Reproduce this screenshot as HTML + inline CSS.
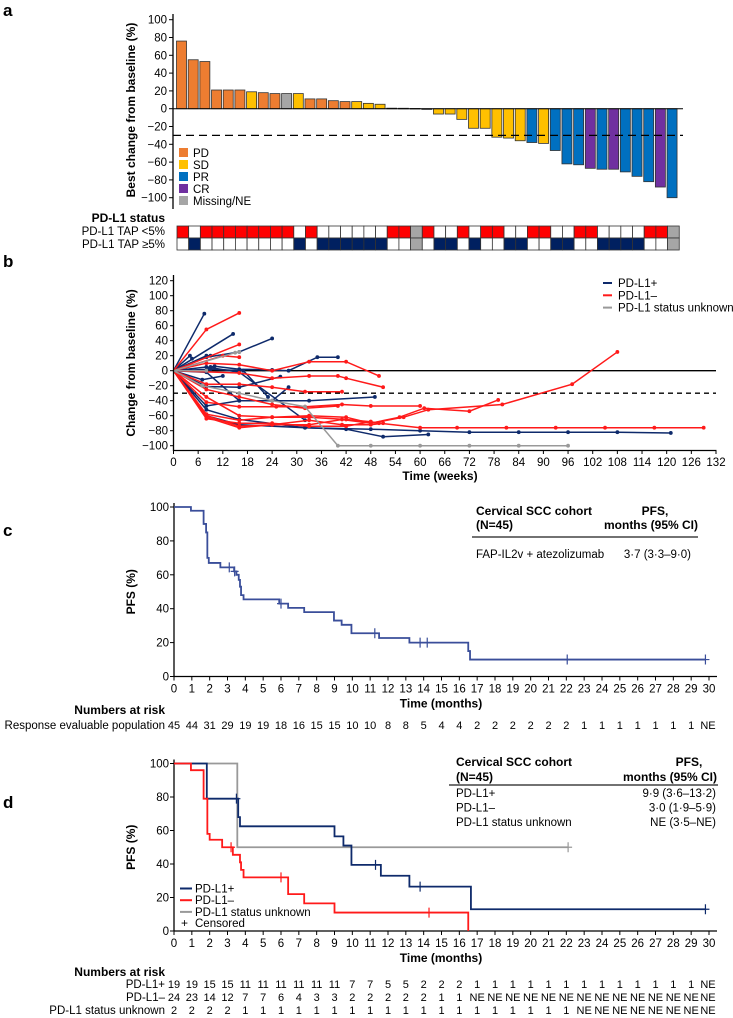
<!DOCTYPE html>
<html><head><meta charset="utf-8"><style>
html,body{margin:0;padding:0;background:#fff;}
svg{display:block;font-family:"Liberation Sans",Arial,sans-serif;}
</style></head><body>
<svg id="fig" width="733" height="1018" viewBox="0 0 733 1018" xmlns="http://www.w3.org/2000/svg">
<g font-weight="bold" font-size="17">
<text x="3" y="16">a</text>
<text x="3" y="267">b</text>
<text x="3" y="536">c</text>
<text x="3" y="808">d</text>
</g>
<g id="pa"></g>
<g id="pb"></g>
<g id="pc"></g>
<g id="pd"></g>
</svg>
<script>
// ---------- Panel a data ----------
const waterValues=[76,55,53,21,21,21,19,18,17,17,17,11,11,9,8,8,6,5,0.6,0.5,0.3,-0.8,-6,-6,-12,-22,-22,-32,-33,-36,-38,-39,-47,-62,-63,-67,-68,-68,-71,-76,-82,-88,-100];
const waterResp=["PD","PD","PD","PD","PD","PD","SD","PD","PD","NE","SD","PD","PD","PD","PD","SD","SD","SD","SD","SD","SD","SD","SD","SD","SD","SD","SD","SD","SD","SD","PR","SD","PR","PR","PR","CR","PR","CR","PR","PR","PR","CR","PR"];
const tapLow=["R","W","R","R","R","R","R","R","R","R","W","R","W","W","W","W","W","W","R","R","G","R","W","W","R","W","R","R","W","W","R","R","W","W","R","R","W","W","W","W","R","R","G"];
const yTicksA=[100,80,60,40,20,0,-20,-40,-60,-80,-100];
// ---------- Panel b data ----------
const spiderGroups=["pos","pos","pos","pos","pos","pos","pos","pos","pos","pos","pos","pos","pos","pos","neg","neg","neg","neg","neg","neg","neg","neg","neg","neg","neg","neg","neg","unk","unk","unk"];
const spiderWeeks=[
[0,7.5],[0,14.5],[0,8,16,24],[0,4,4.5],[0,8,9],[0,8,9,10,16,24,28,35,40],[0,7,12],[0,8,16,26],[0,8,16,24,28],[0,8,16,33,49],[0,8,16,32,48,60,72,84,96,108,121],[0,8,16,32,42,51,62],[0,9,17,23],[0,8,16,32],
[0,8,16],[0,16],[0,12,16],[0,8,16,24,33,42,50],[0,16,24,33,40,42,51],[0,8,16,24,32,41],[0,8,16,24,33,41,48,51],[0,8,16,25,32,41,48,60],[0,8,16,24,33,41,48,55,61,72,79],[0,8,16,24,33,42,48,50,60,69,81,93,105,117,129],[0,8,16,24,33,42,48,56,62,80,97,108],[0,8,16,24,32,40],[0,8,16,24,33,42,48],
[0,7,16,24,32,40,48,60,72,84,96],[0,15,16],[0,8]];
const spiderValues=[
[0,76],[0,49],[0,18,25,43],[0,20,16],[0,20,20],[0,0,5,6,2,1,0,18,18],[0,-12,-7],[0,-21,-22,-8],[0,-2,-40,-40,-22],[0,-47,-40,-40,-35],[0,-60,-72,-76,-78,-80,-82,-82,-82,-82,-83],[0,-52,-65,-76,-78,-88,-85],[0,2,0,-35],[0,5,-2,-66],
[0,55,77],[0,35],[0,20,18],[0,10,8,0,12,12,-7],[0,-3,-10,-7,-7,-10,-22],[0,-18,-18,-22,-28,-28],[0,-60,-74,-72,-66,-72,-72,-70],[0,-42,-48,-48,-48,-45,-47,-47],[0,-62,-76,-72,-72,-65,-70,-62,-50,-54,-39],[0,-64,-70,-70,-74,-74,-68,-70,-76,-76,-76,-76,-76,-76,-76],[0,-58,-66,-62,-60,-62,-70,-62,-52,-45,-18,25],[0,-25,-35,-45,-50,-47],[0,-35,-60,-62,-62,-65,-68],
[0,-20,-30,-40,-48,-100,-100,-100,-100,-100,-100],[0,24,25],[0,0]];
const xTicksB=[0,6,12,18,24,30,36,42,48,54,60,66,72,78,84,90,96,102,108,114,120,126,132];
const yTicksB=[120,100,80,60,40,20,0,-20,-40,-60,-80,-100];
// ---------- Panel c data ----------
const kmTimesC=[0,0.95,1.66,1.8,1.87,1.95,2.6,3.37,3.5,3.63,3.7,3.76,3.9,5.9,6.4,7.3,8.97,9.4,9.95,11.5,13.2,16.5,16.6,29.8];
const kmSurvC=[100,97.8,90,85,70,67,64.4,62,60,57,53,48,45.5,43,40.5,38,33,30.5,25.5,22.7,20,15,10,10];
const censorC=[3.1,3.4,6.0,11.26,13.8,14.2,22.05,29.8];
const riskC=["45","44","31","29","19","19","18","16","15","15","10","10","8","8","5","4","4","2","2","2","2","2","2","1","1","1","1","1","1","1","NE"];
// ---------- Panel d data ----------
const kmTimesPos=[0,1.84,3.6,3.7,9.0,9.5,9.95,11.6,13.2,16.65,29.8];
const kmSurvPos=[100,79,68,62.5,56.5,51,39.5,33,26.5,13,13];
const censorPos=[3.5,11.3,13.8,29.8];
const kmTimesNeg=[0,0.95,1.66,1.87,2.0,2.7,3.3,3.7,3.76,3.9,6.4,7.3,9.0,16.5];
const kmSurvNeg=[100,96,79,58,54.5,50,45.5,41,36.5,32,22,16.5,11,0];
const censorNeg=[3.2,6.0,14.3];
const kmTimesUnk=[0,3.55,22.1];
const kmSurvUnk=[100,50,50];
const censorUnk=[22.1];
const riskPos=["19","19","15","15","11","11","11","11","11","11","7","7","5","5","2","2","2","1","1","1","1","1","1","1","1","1","1","1","1","1","NE"];
const riskNeg=["24","23","14","12","7","7","6","4","3","3","2","2","2","2","2","1","1","NE","NE","NE","NE","NE","NE","NE","NE","NE","NE","NE","NE","NE","NE"];
const riskUnk=["2","2","2","2","1","1","1","1","1","1","1","1","1","1","1","1","1","1","1","1","1","1","1","NE","NE","NE","NE","NE","NE","NE","NE"];

const NS="http://www.w3.org/2000/svg";
function mk(parent,tag,attrs,txt){const e=document.createElementNS(NS,tag);for(const k in attrs)e.setAttribute(k,attrs[k]);if(txt!==undefined)e.textContent=txt;parent.appendChild(e);return e;}

// ===== Panel a =====
(function(){
const g=document.getElementById('pa');
const y=v=>108.7-v*0.89;
const x0=176.5,pitch=11.68,bw=10;
const colors={PD:"#ED7D31",SD:"#FFC000",PR:"#0070C0",CR:"#7030A0",NE:"#A6A6A6"};
let ax=mk(g,'line',{x1:173,y1:14,x2:173,y2:209,stroke:'#000','stroke-width':1.3});


yTicksA.forEach(t=>{
 let tk=mk(g,'line',{x1:169,x2:173,y1:y(t),y2:y(t),stroke:'#000'});
 
 
 let lb=mk(g,'text',{x:167,y:y(t)+4,'text-anchor':'end','font-size':11.5},t<0?'\u2212'+(-t):String(t));
 
 
});
let yt=mk(g,'text',{transform:'translate(135,110) rotate(-90)','text-anchor':'middle','font-size':12,'font-weight':'bold'},'Best change from baseline (%)');


waterValues.forEach((v,i)=>{
 const bx=x0+i*pitch;
 const top=Math.min(y(v),y(0)),h=Math.abs(y(v)-y(0));
 let r=mk(g,'rect',{x:bx,y:top,width:bw,height:Math.max(h,0.6),fill:colors[waterResp[i]],stroke:'#333','stroke-width':0.8});
 
 
});
let z=mk(g,'line',{x1:173,x2:683,y1:y(0),y2:y(0),stroke:'#000','stroke-width':1});


let d=mk(g,'line',{x1:173,x2:683,y1:y(-30),y2:y(-30),stroke:'#000','stroke-width':1.3,'stroke-dasharray':'8,5'});


const leg=[["PD","PD"],["SD","SD"],["PR","PR"],["CR","CR"],["NE","Missing/NE"]];
leg.forEach((l,i)=>{
 const ly=148+i*12;
 let s=mk(g,'rect',{x:179,y:ly,width:9,height:9,fill:colors[l[0]]});
 
 
 let t=mk(g,'text',{x:193,y:ly+9,'font-size':11.5},l[1]);
 
 
});
let h=mk(g,'text',{x:165,y:222,'text-anchor':'end','font-size':12,'font-weight':'bold'},'PD-L1 status');


let r1=mk(g,'text',{x:165,y:235,'text-anchor':'end','font-size':11.5},'PD-L1 TAP <5%');


let r2=mk(g,'text',{x:165,y:248,'text-anchor':'end','font-size':11.5},'PD-L1 TAP \u22655%');


const cc={R:"#FF0000",W:"#FFFFFF",G:"#A6A6A6",N:"#002060"};
tapLow.forEach((c,i)=>{
 const cx=177+i*pitch;
 const c2=c==="R"?"W":(c==="W"?"N":"G");
 let a=mk(g,'rect',{x:cx,y:226,width:pitch,height:12,fill:cc[c],stroke:'#333','stroke-width':0.8});
 
 
 let b=mk(g,'rect',{x:cx,y:238,width:pitch,height:12,fill:cc[c2],stroke:'#333','stroke-width':0.8});
 
 
});
})();

// ===== Panel b =====
(function(){
const g=document.getElementById('pb');
const x=w=>173.5+w*(542.5/132);
const y=v=>370.7-v*0.75;
const col={pos:"#0E2A6B",neg:"#FF1A1A",unk:"#999999"};
let zl=mk(g,'line',{x1:173,x2:716,y1:y(0),y2:y(0),stroke:'#000','stroke-width':1.3});


let dl=mk(g,'line',{x1:173,x2:716,y1:y(-30),y2:y(-30),stroke:'#000','stroke-width':1.3,'stroke-dasharray':'5,4'});


spiderWeeks.forEach((ws,i)=>{
 const pts=ws.map((w,j)=>x(w)+','+y(spiderValues[i][j])).join(' ');
 let pl=mk(g,'polyline',{points:pts,fill:'none',stroke:col[spiderGroups[i]],'stroke-width':1.5});
 
 
 ws.forEach((w,j)=>{ if(j===0)return;
  let c=mk(g,'circle',{cx:x(w),cy:y(spiderValues[i][j]),r:1.9,fill:col[spiderGroups[i]]});
  
  
 });
});
let ya=mk(g,'line',{x1:173.5,x2:173.5,y1:275,y2:451,stroke:'#000','stroke-width':1.3});


let xa=mk(g,'line',{x1:173,x2:716.5,y1:450.5,y2:450.5,stroke:'#000','stroke-width':1.3});


yTicksB.forEach(t=>{
 let tk=mk(g,'line',{x1:170,x2:173.5,y1:y(t),y2:y(t),stroke:'#000'});
 
 
 let lb=mk(g,'text',{x:168,y:y(t)+4,'text-anchor':'end','font-size':11.5},t<0?'\u2212'+(-t):String(t));
 
 
});
xTicksB.forEach(t=>{
 let tk=mk(g,'line',{x1:x(t),x2:x(t),y1:450.5,y2:454,stroke:'#000'});
 
 
 let lb=mk(g,'text',{x:x(t),y:466,'text-anchor':'middle','font-size':11.5},String(t));
 
 
});
let xt=mk(g,'text',{x:440,y:480,'text-anchor':'middle','font-size':12,'font-weight':'bold'},'Time (weeks)');


let yt=mk(g,'text',{transform:'translate(135,363) rotate(-90)','text-anchor':'middle','font-size':12,'font-weight':'bold'},'Change from baseline (%)');


[["pos","PD-L1+"],["neg","PD-L1\u2013"],["unk","PD-L1 status unknown"]].forEach((l,i)=>{
 const ly=283+i*12.3;
 let s=mk(g,'line',{x1:603,x2:612,y1:ly,y2:ly,stroke:col[l[0]],'stroke-width':2});
 
 
 let t=mk(g,'text',{x:618,y:ly+4,'font-size':11.5},l[1]);
 
 
});
})();

// ===== KM helpers =====
function kmAxes(g,y0,y100,tag){
 const x=m=>174+m*(535/30);
 const y=v=>y0-(y0-y100)*v/100;
 let ya=mk(g,'line',{x1:174,x2:174,y1:y100-4,y2:y0,stroke:'#000','stroke-width':1.3});
 
 
 let xa=mk(g,'line',{x1:174,x2:717,y1:y0,y2:y0,stroke:'#000','stroke-width':1.3});
 
 
 [0,20,40,60,80,100].forEach(t=>{
  let tk=mk(g,'line',{x1:170,x2:174,y1:y(t),y2:y(t),stroke:'#000'});
  
  
  let lb=mk(g,'text',{x:169,y:y(t)+4,'text-anchor':'end','font-size':11.5},String(t));
  
  
 });
 for(let m=0;m<=30;m++){
  let tk=mk(g,'line',{x1:x(m),x2:x(m),y1:y0,y2:y0+4,stroke:'#000'});
  
  
  let lb=mk(g,'text',{x:x(m),y:y0+16,'text-anchor':'middle','font-size':11.5},String(m));
  
  
 }
 let xt=mk(g,'text',{x:441,y:y0+31,'text-anchor':'middle','font-size':12,'font-weight':'bold'},'Time (months)');
 
 
 let yt=mk(g,'text',{transform:'translate(135,'+((y0+y100)/2)+') rotate(-90)','text-anchor':'middle','font-size':12,'font-weight':'bold'},'PFS (%)');
 
 
 return {x,y};
}
function kmCurve(g,s,times,surv,cens,color,name){
 let d='M'+s.x(times[0])+','+s.y(surv[0]);
 for(let i=1;i<times.length;i++){d+=' H'+s.x(times[i])+' V'+s.y(surv[i]);}
 let p=mk(g,'path',{d:d,fill:'none',stroke:color,'stroke-width':1.8});
 
 
 cens.forEach(c=>{
  let v=surv[0];for(let i=0;i<times.length;i++){if(times[i]<=c)v=surv[i];}
  let cm=mk(g,'path',{d:'M'+s.x(c)+','+(s.y(v)-5)+' V'+(s.y(v)+5)+' M'+(s.x(c)-4)+','+s.y(v)+' H'+(s.x(c)+4),stroke:color,'stroke-width':1.2,fill:'none'});
  
  
 });
}
function riskRow(g,s,vals,label,yy,name){
 let l=mk(g,'text',{x:165,y:yy,'text-anchor':'end','font-size':11.5},label);
 
 
 vals.forEach((v,i)=>{
  let t=mk(g,'text',{x:s.x(i)+(i===30?-1:0),y:yy,'text-anchor':'middle','font-size':11},v);
  
  
 });
}

// ===== Panel c =====
(function(){
const g=document.getElementById('pc');
const s=kmAxes(g,676.5,507,'c');
kmCurve(g,s,kmTimesC,kmSurvC,censorC,'#3A4E9A','all');
let a=mk(g,'text',{x:476,y:515,'font-size':12,'font-weight':'bold'},'Cervical SCC cohort');

let b=mk(g,'text',{x:476,y:529,'font-size':12,'font-weight':'bold'},'(N=45)');

let c=mk(g,'text',{x:655,y:515,'text-anchor':'middle','font-size':12,'font-weight':'bold'},'PFS,');

let d=mk(g,'text',{x:698,y:529,'text-anchor':'end','font-size':12,'font-weight':'bold'},'months (95% CI)');

let ln=mk(g,'line',{x1:472,x2:698,y1:537,y2:537,stroke:'#444','stroke-width':1.5});

let e=mk(g,'text',{x:476,y:558,'font-size':11.5},'FAP-IL2v + atezolizumab');

let f=mk(g,'text',{x:691,y:558,'text-anchor':'end','font-size':11.5},'3\u00b77 (3\u00b73\u20139\u00b70)');

let n=mk(g,'text',{x:165,y:714,'text-anchor':'end','font-size':12,'font-weight':'bold'},'Numbers at risk');

riskRow(g,s,riskC,'Response evaluable population',729,'all');
})();

// ===== Panel d =====
(function(){
const g=document.getElementById('pd');
const s=kmAxes(g,931,763.5,'d');
kmCurve(g,s,kmTimesUnk,kmSurvUnk,censorUnk,'#999999','unknown');
kmCurve(g,s,kmTimesPos,kmSurvPos,censorPos,'#0E2A6B','pd-l1-pos');
kmCurve(g,s,kmTimesNeg,kmSurvNeg,censorNeg,'#FF1A1A','pd-l1-neg');
let a=mk(g,'text',{x:456,y:766,'font-size':12,'font-weight':'bold'},'Cervical SCC cohort');

let b=mk(g,'text',{x:456,y:781,'font-size':12,'font-weight':'bold'},'(N=45)');

let c=mk(g,'text',{x:689,y:766,'text-anchor':'middle','font-size':12,'font-weight':'bold'},'PFS,');

let d=mk(g,'text',{x:717,y:781,'text-anchor':'end','font-size':12,'font-weight':'bold'},'months (95% CI)');

let ln=mk(g,'line',{x1:449,x2:718,y1:785,y2:785,stroke:'#444','stroke-width':1.5});

[["PD-L1+","9\u00b79 (3\u00b76\u201313\u00b72)"],["PD-L1\u2013","3\u00b70 (1\u00b79\u20135\u00b79)"],["PD-L1 status unknown","NE (3\u00b75\u2013NE)"]].forEach((r,i)=>{
 let t=mk(g,'text',{x:456,y:797+i*14.5,'font-size':11.5},r[0]);
 
 let v=mk(g,'text',{x:716,y:797+i*14.5,'text-anchor':'end','font-size':11.5},r[1]);
 
});
const lg=[["#0E2A6B","PD-L1+"],["#FF1A1A","PD-L1\u2013"],["#999999","PD-L1 status unknown"]];
lg.forEach((l,i)=>{
 const ly=888.5+i*11.7;
 let s1=mk(g,'line',{x1:180,x2:192,y1:ly,y2:ly,stroke:l[0],'stroke-width':2});
 
 let t=mk(g,'text',{x:195,y:ly+4,'font-size':11.5},l[1]);
 
});
let cp=mk(g,'text',{x:181,y:927,'font-size':12},'+');

let ct=mk(g,'text',{x:195,y:927,'font-size':11.5},'Censored');

let n=mk(g,'text',{x:165,y:976,'text-anchor':'end','font-size':12,'font-weight':'bold'},'Numbers at risk');

riskRow(g,s,riskPos,'PD-L1+',988,'pos');
riskRow(g,s,riskNeg,'PD-L1\u2013',1001,'neg');
riskRow(g,s,riskUnk,'PD-L1 status unknown',1014,'unk');
})();
</script>
</body></html>
